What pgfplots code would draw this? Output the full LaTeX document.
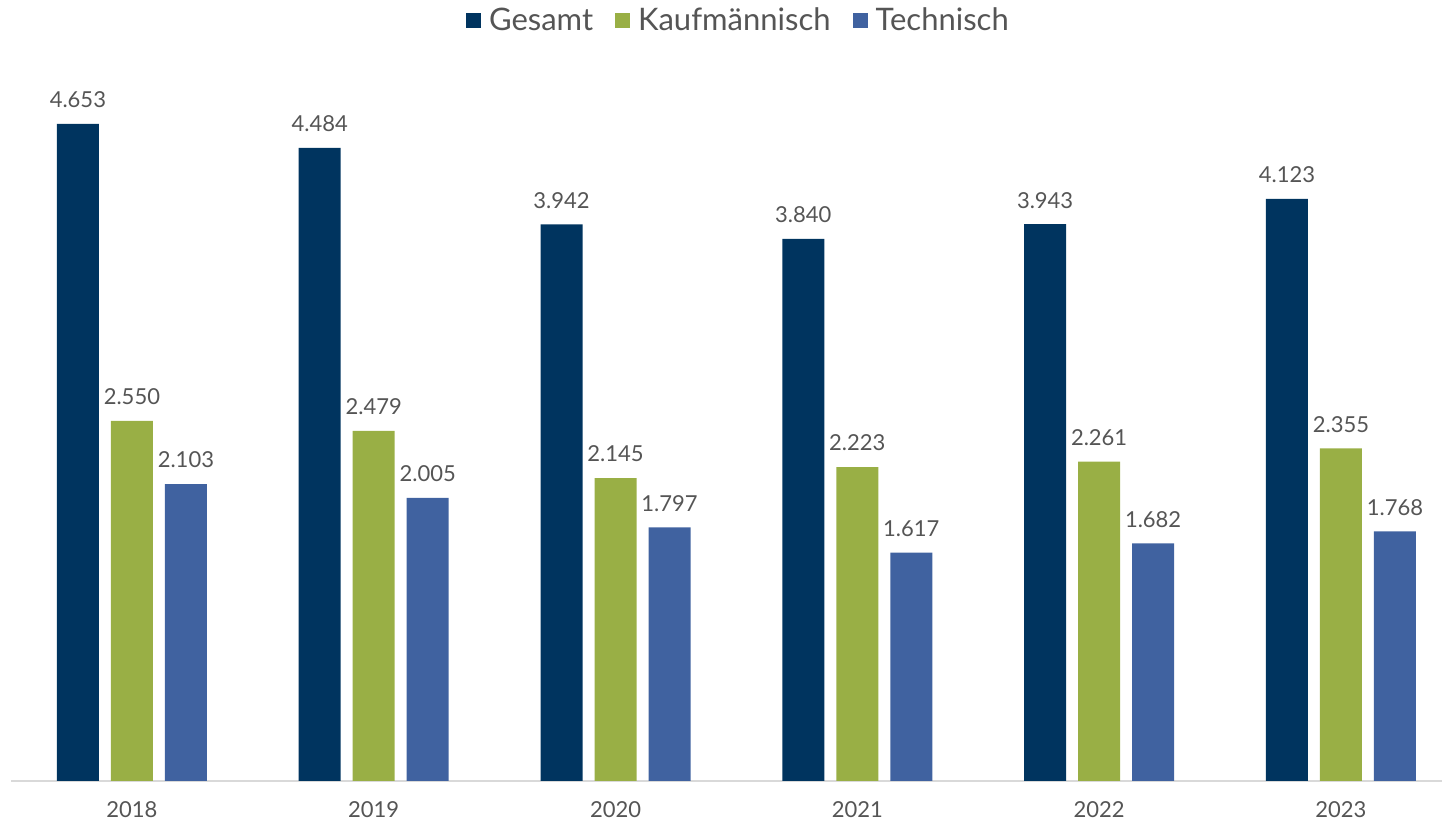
\documentclass[border=0pt]{standalone}
\usepackage{pgfplots}
\pgfplotsset{compat=1.18}
\usepackage{fontspec}
\setmainfont{Lato}

\definecolor{gesamt}{HTML}{00345F}
\definecolor{kaufm}{HTML}{99AF45}
\definecolor{techn}{HTML}{4062A0}
\definecolor{txt}{HTML}{555555}
\definecolor{axisgray}{HTML}{D9D9D9}

\begin{document}
\begin{tikzpicture}
\useasboundingbox (-5.5pt,-21.5pt) rectangle (715.5pt,390.5pt);
\begin{axis}[
    scale only axis,
    width=715.5pt, height=328.5pt,
    xmin=-0.5, xmax=5.418,
    ymin=0, ymax=4.653,
    ybar=6pt, bar width=21pt,
    axis x line*=bottom,
    axis y line=none,
    axis line style={axisgray, line width=1pt},
    xtick={0,1,2,3,4,5},
    xticklabels={2018,2019,2020,2021,2022,2023},
    major tick length=0pt,
    xticklabel style={font=\fontsize{11}{13}\selectfont, text=txt, yshift=-6.5pt},
    /pgf/number format/assume math mode=true,
    nodes near coords,
    nodes near coords style={font=\fontsize{11}{13}\selectfont, text=txt,
        /pgf/number format/fixed, /pgf/number format/precision=3,
        /pgf/number format/fixed zerofill, yshift=4.5pt},
    clip=false,
    legend style={at={(0.509,1.157)}, anchor=center, draw=none,
        font=\fontsize{15.5}{17}\selectfont, text=txt,
        /tikz/every even column/.append style={column sep=9pt}},
    legend columns=-1,
    legend image code/.code={\fill[#1] (0pt,-3.8pt) rectangle (7.6pt,3.8pt);
        \path (9.5pt,0pt);},
]
\addplot[fill=gesamt, draw=none] coordinates {
    (0,4.653) (1,4.484) (2,3.942) (3,3.840) (4,3.943) (5,4.123)};
\addplot[fill=kaufm, draw=none] coordinates {
    (0,2.550) (1,2.479) (2,2.145) (3,2.223) (4,2.261) (5,2.355)};
\addplot[fill=techn, draw=none] coordinates {
    (0,2.103) (1,2.005) (2,1.797) (3,1.617) (4,1.682) (5,1.768)};
\legend{Gesamt,Kaufmännisch,Technisch}
\end{axis}
\end{tikzpicture}
\end{document}
